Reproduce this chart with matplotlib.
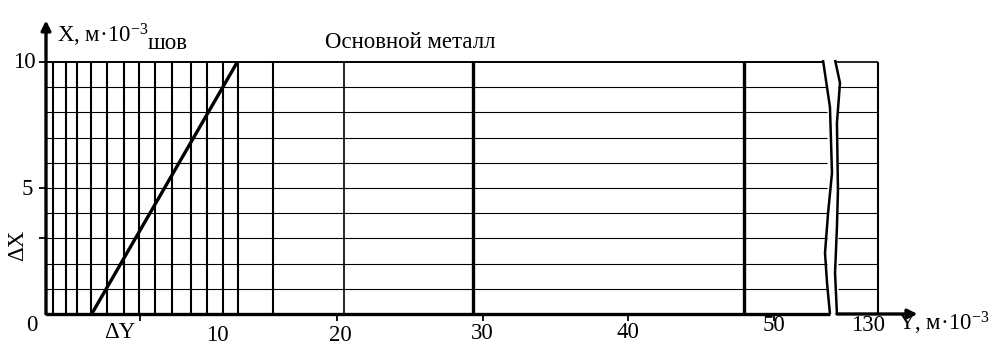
import matplotlib
matplotlib.use("Agg")
import matplotlib.pyplot as plt

# grid of the weld zone chart (units: m*10^-3)
v_lines_fine = [0.50, 1.35, 2.15, 3.07, 4.21, 5.38, 6.41, 7.49, 8.68,
                9.95, 11.09, 12.14, 13.22, 15.58]
v_lines_mid = [20.5]
v_lines_heavy = [29.35, 48.0]
h_lines = [1, 2, 3, 4, 5, 6, 7, 8, 9]
x_top = 10

# weld boundary line
seam_y = [3.14, 13.15]
seam_x = [0, 10]

# axis break (wavy lines) and the cut-off tail ending at 130
break_left_y = [53.40, 53.88, 54.02, 53.75, 53.54, 53.68, 53.88]
break_left_x = [10.08, 8.21, 5.6, 4.0, 2.42, 1.23, 0.0]
break_right_y = [54.23, 54.57, 54.36, 54.43, 54.36, 54.23, 54.36]
break_right_x = [10.08, 9.17, 7.58, 4.92, 3.45, 1.63, 0.0]
tail_end = 57.18

y_ticks = [6.45, 20, 30, 40, 50]
y_tick_labels = ["10", "20", "30", "40", "50", "130"]
y_label_pos = [11.75, 20.2, 30, 40, 50, 56.5]
x_ticks = [3, 5, 10]

plt.rcParams["font.family"] = ["Liberation Serif", "DejaVu Serif"]
plt.rcParams["mathtext.fontset"] = "custom"
plt.rcParams["mathtext.rm"] = "Liberation Serif"
plt.rcParams["mathtext.it"] = "Liberation Serif:italic"

fig = plt.figure(figsize=(9.96, 3.45), dpi=100)
ax = fig.add_axes([46 / 996, 31 / 345, 873 / 996, 302.4 / 345])
ax.set_xlim(0, 60)
ax.set_ylim(0, 12)
ax.axis("off")

k = dict(color="black", clip_on=False, solid_capstyle="butt")

# horizontal grid
for h in h_lines:
    ax.plot([0, 53.7], [h, h], lw=0.8, **k)
    ax.plot([54.4, tail_end], [h, h], lw=0.8, **k)
ax.plot([0, break_left_y[0]], [x_top, x_top], lw=1.4, **k)
ax.plot([break_right_y[0], tail_end], [x_top, x_top], lw=1.2, **k)

# vertical grid
for v in v_lines_fine:
    ax.plot([v, v], [0, x_top], lw=1.5, **k)
for v in v_lines_mid:
    ax.plot([v, v], [0, x_top], lw=1.2, **k)
for v in v_lines_heavy:
    ax.plot([v, v], [0, x_top], lw=2.4, **k)
ax.plot([tail_end, tail_end], [0, x_top], lw=1.5, **k)

# break lines
ax.plot(break_left_y, break_left_x, lw=1.8, **k)
ax.plot(break_right_y, break_right_x, lw=1.8, **k)

# seam line
ax.plot(seam_y, seam_x, lw=2.4, **k)

# axes with arrows
ax.plot([0, 53.88], [0, 0], lw=2.4, **k)
ax.annotate("", xy=(59.9, 0), xytext=(54.36, 0),
            arrowprops=dict(arrowstyle="-|>", lw=2.4, color="black",
                            mutation_scale=14, shrinkA=0, shrinkB=0))
ax.annotate("", xy=(0, 11.65), xytext=(0, 0),
            arrowprops=dict(arrowstyle="-|>", lw=2.4, color="black",
                            mutation_scale=14, shrinkA=0, shrinkB=0))

# ticks
for t in y_ticks:
    ax.plot([t, t], [0, -0.26], lw=1.3, **k)
for t in x_ticks:
    ax.plot([0, -0.5], [t, t], lw=1.3, **k)

fs = 16.5
ax.text(-1.5, 10, "10", fontsize=fs, ha="center", va="center")
ax.text(-1.3, 4.96, "5", fontsize=fs, ha="center", va="center")
ax.text(-0.95, -0.44, "0", fontsize=fs, ha="center", va="center")
ax.text(-1.95, 2.74, "ΔX", fontsize=fs, ha="center", va="center", rotation=90)
ax.text(5.1, -0.75, "ΔY", fontsize=fs, ha="center", va="center")

label_y = [-0.84, -0.86, -0.79, -0.75, -0.46, -0.46]
for lab, pos, ly in zip(y_tick_labels, y_label_pos, label_y):
    ax.text(pos, ly, lab, fontsize=fs, ha="center", va="center")

ax.text(0.76, 10.79, "X, м·10$^{-3}$", fontsize=fs, ha="left", va="baseline")
ax.text(8.35, 10.5, "шов", fontsize=fs, ha="center", va="baseline")
ax.text(19.18, 10.56, "Основной металл", fontsize=fs, ha="left", va="baseline")
ax.text(58.56, -0.64, "Y, м·10$^{-3}$", fontsize=fs, ha="left", va="baseline")

fig.savefig("out.png", dpi=100, facecolor="white")
